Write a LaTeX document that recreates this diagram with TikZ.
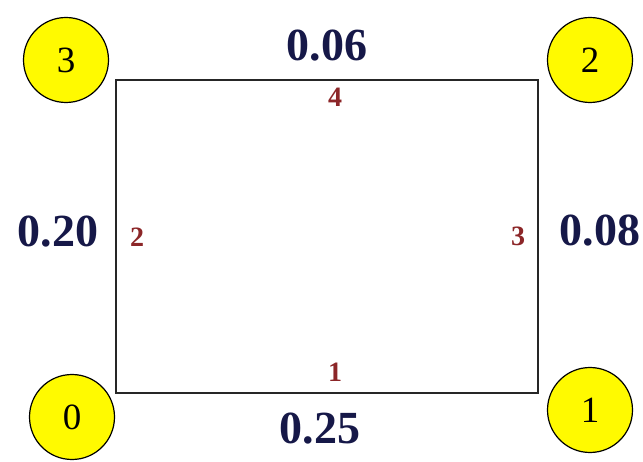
\documentclass[tikz,border=0pt]{standalone}
\usepackage{fontspec}
\setmainfont{Liberation Serif}
\usepackage{xcolor}
\usetikzlibrary{positioning}
\definecolor{navy}{RGB}{22,24,72}
\definecolor{brick}{RGB}{140,38,40}
\definecolor{lemon}{RGB}{255,250,0}

\begin{document}
\begin{tikzpicture}[x=1pt, y=-1pt,
      vertex/.style={circle, draw=black, line width=1.2pt, fill=lemon, minimum size=85pt,
                     inner sep=0pt, font=\fontsize{37}{37}\selectfont},
      weight/.style={inner sep=0pt, text=navy, font=\fontsize{46}{46}\selectfont\bfseries},
      side/.style={inner sep=0pt, text=brick, font=\fontsize{28}{28}\selectfont\bfseries},
      wire/.style={draw=black!85, line width=1.4pt}]
    \useasboundingbox (0,0) rectangle (643,462);
    % corner circles
    \node[vertex] (v0) at (72,417) {0};
    \node[vertex] (v1) at (590,410) {1};
    \node[vertex] (v2) at (590,60) {2};
    \node[vertex] (v3) at (66,60) {3};
    % rectangle corners
    \coordinate (p0) at (116,393);
    \coordinate (p1) at (538,393);
    \coordinate (p2) at (538,80);
    \coordinate (p3) at (116,80);
    \draw[wire] (p0) -- (p1) -- (p2) -- (p3) -- cycle;
    % side numbers
    \node[side] (s1) at (335,372) {1};
    \node[side] (s2) at (137,237) {2};
    \node[side] (s3) at (518,236) {3};
    \node[side] (s4) at (335,97) {4};
    % weights
    \node[weight] (w1) at (320,429) {0.25};
    \node[weight] (w2) at (58,232) {0.20};
    \node[weight] (w3) at (600,231) {0.08};
    \node[weight] (w4) at (327,46) {0.06};
\end{tikzpicture}
\end{document}
